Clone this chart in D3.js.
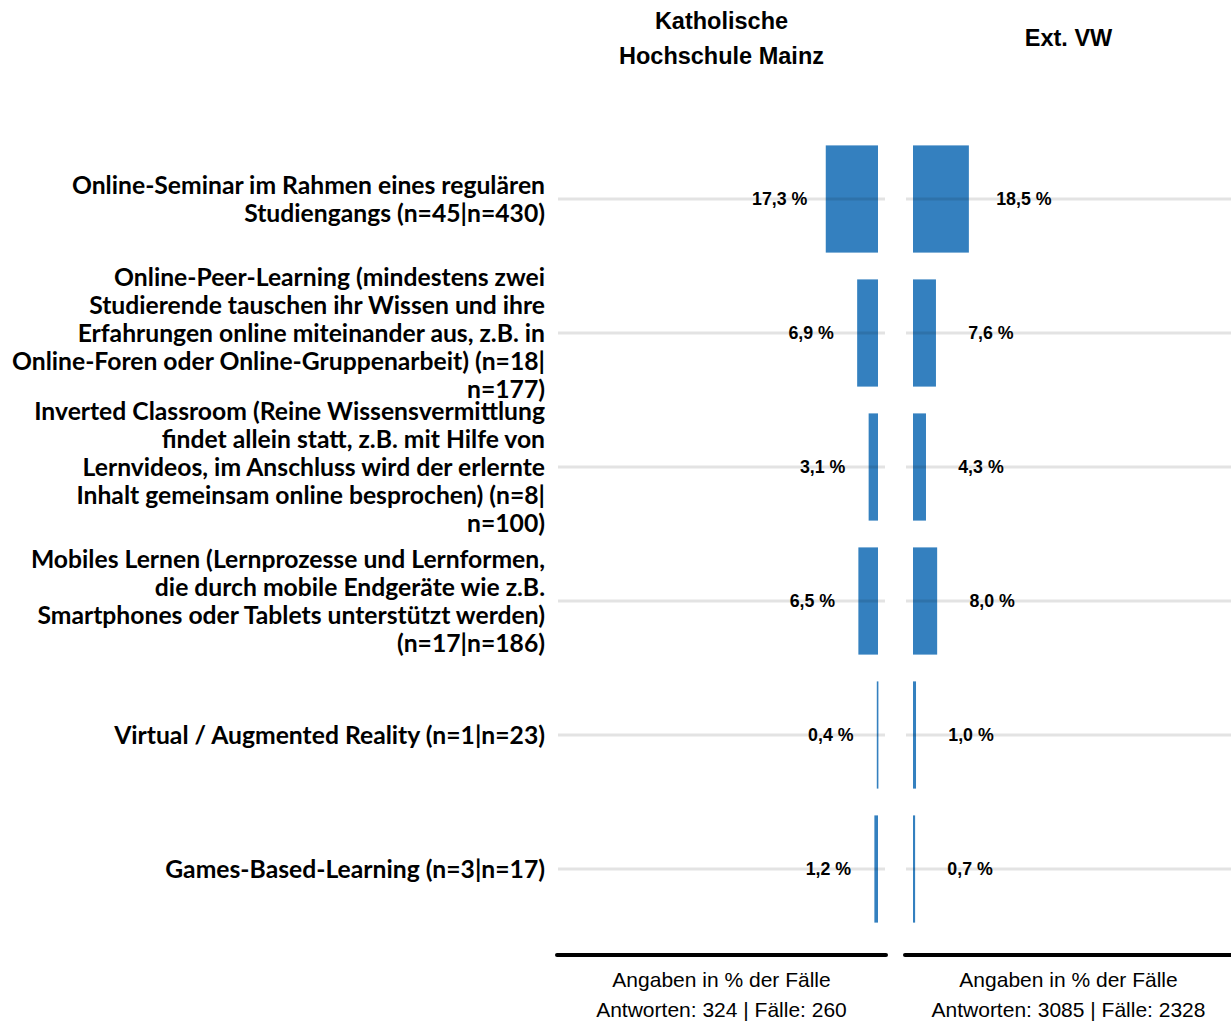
<!DOCTYPE html>
<html>
<head>
<meta charset="utf-8">
<script src="https://cdn.jsdelivr.net/npm/d3@7"></script>
<style>
  html, body { margin: 0; padding: 0; background: #fff; }
  svg { display: block; }
</style>
</head>
<body>
<script>
const categories = [
  ["Online-Seminar im Rahmen eines regulären", "Studiengangs (n=45|n=430)"],
  ["Online-Peer-Learning (mindestens zwei", "Studierende tauschen ihr Wissen und ihre", "Erfahrungen online miteinander aus, z.B. in", "Online-Foren oder Online-Gruppenarbeit) (n=18|", "n=177)"],
  ["Inverted Classroom (Reine Wissensvermittlung", "findet allein statt, z.B. mit Hilfe von", "Lernvideos, im Anschluss wird der erlernte", "Inhalt gemeinsam online besprochen) (n=8|", "n=100)"],
  ["Mobiles Lernen (Lernprozesse und Lernformen,", "die durch mobile Endgeräte wie z.B.", "Smartphones oder Tablets unterstützt werden)", "(n=17|n=186)"],
  ["Virtual / Augmented Reality (n=1|n=23)"],
  ["Games-Based-Learning (n=3|n=17)"]
];
const valuesKHM = [17.3, 6.9, 3.1, 6.5, 0.4, 1.2];
const valuesVW = [18.5, 7.6, 4.3, 8.0, 1.0, 0.7];
const panelTitles = [["Katholische", "Hochschule Mainz"], ["Ext. VW"]];
const footers = [
  ["Angaben in % der Fälle", "Antworten: 324 | Fälle: 260"],
  ["Angaben in % der Fälle", "Antworten: 3085 | Fälle: 2328"]
];

const W = 1231, H = 1021;
const svg = d3.select("body").append("svg").attr("width", W).attr("height", H);

const y = d3.scaleBand().domain(d3.range(categories.length))
  .range([132, 936]).paddingInner(0.2).paddingOuter(0.1);

const fmt = v => d3.format(".1f")(v).replace(".", ",") + " %";
const barColor = "#3480bf";

const panels = [
  { values: valuesKHM, x: d3.scaleLinear().domain([0, 100]).range([878, 576]), grid: [558, 885], base: [557, 886], center: 721.5, dir: -1, labelOff: 46 },
  { values: valuesVW, x: d3.scaleLinear().domain([0, 100]).range([913, 1215]), grid: [906, 1231], base: [905, 1231], center: 1068.5, dir: 1, labelOff: 55 }
];

// category labels
const catG = svg.append("g");
categories.forEach((lines, i) => {
  const cy = y(i) + y.bandwidth() / 2;
  const lh = 28;
  const t = catG.append("text")
    .attr("text-anchor", "end")
    .attr("font-family", "Lato, 'Open Sans', sans-serif")
    .attr("font-weight", "bold")
    .attr("font-size", 24.7)
    .attr("fill", "#000");
  lines.forEach((ln, k) => {
    t.append("tspan")
      .attr("x", 545)
      .attr("y", cy + (k - (lines.length - 1) / 2) * lh)
      .attr("dy", "0.35em")
      .text(ln);
  });
});

panels.forEach((p, pi) => {
  const g = svg.append("g");
  // bars
  g.selectAll("rect.bar").data(p.values).join("rect")
    .attr("class", "bar")
    .attr("x", d => Math.min(p.x(0), p.x(d)))
    .attr("width", d => Math.max(1.6, Math.abs(p.x(d) - p.x(0))))
    .attr("y", (d, i) => y(i))
    .attr("height", y.bandwidth())
    .attr("fill", barColor);
  // gridlines (on top, translucent)
  g.selectAll("line.grid").data(p.values).join("line")
    .attr("class", "grid")
    .attr("x1", p.grid[0]).attr("x2", p.grid[1])
    .attr("y1", (d, i) => y(i) + y.bandwidth() / 2)
    .attr("y2", (d, i) => y(i) + y.bandwidth() / 2)
    .attr("stroke", "#000").attr("stroke-opacity", 0.11).attr("stroke-width", 3);
  // value labels
  g.selectAll("text.val").data(p.values).join("text")
    .attr("class", "val")
    .attr("x", d => p.x(d) + p.dir * p.labelOff)
    .attr("y", (d, i) => y(i) + y.bandwidth() / 2)
    .attr("dy", "0.35em")
    .attr("text-anchor", "middle")
    .attr("font-family", "'Liberation Sans', Arial, sans-serif")
    .attr("font-weight", "bold")
    .attr("font-size", 17.8)
    .attr("fill", "#000")
    .text(d => fmt(d));
  // titles
  const tl = panelTitles[pi];
  const tt = svg.append("text")
    .attr("text-anchor", "middle")
    .attr("font-family", "'Liberation Sans', Arial, sans-serif")
    .attr("font-weight", "bold")
    .attr("font-size", 23.5)
    .attr("fill", "#000");
  tl.forEach((ln, k) => {
    tt.append("tspan").attr("x", p.center)
      .attr("y", 38 + (k - (tl.length - 1) / 2) * 35)
      .attr("dy", "0.35em")
      .text(ln);
  });
  // baseline
  svg.append("line")
    .attr("x1", p.base[0]).attr("x2", p.base[1])
    .attr("y1", 955).attr("y2", 955)
    .attr("stroke", "#000").attr("stroke-width", 4).attr("stroke-linecap", "round");
  // footers
  footers[pi].forEach((ln, k) => {
    svg.append("text")
      .attr("x", p.center)
      .attr("y", 980 + k * 30)
      .attr("dy", "0.35em")
      .attr("text-anchor", "middle")
      .attr("font-family", "'Liberation Sans', Arial, sans-serif")
      .attr("font-size", 21)
      .attr("fill", "#000")
      .text(ln);
  });
});
</script>
</body>
</html>
